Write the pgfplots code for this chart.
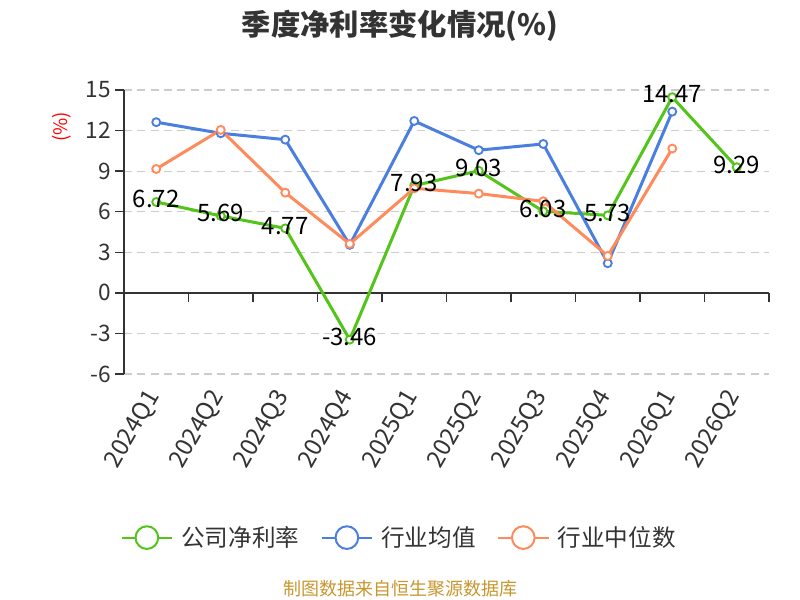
\documentclass[border=0pt]{standalone}
\usepackage{pgfplots}
\pgfplotsset{compat=1.18}
\usepackage{fontspec}
\setmainfont{Noto Sans CJK SC}
\definecolor{cgreen}{HTML}{52C41A}
\definecolor{cblue}{HTML}{4A7FE0}
\definecolor{corange}{HTML}{FF8A5B}
\definecolor{ctext}{HTML}{333333}
\definecolor{cgrid}{HTML}{CCCCCC}
\definecolor{csrc}{HTML}{C8962E}
\begin{document}
\begin{tikzpicture}
\useasboundingbox (0,0) rectangle (600pt,450pt);
\node[font=\bfseries\fontsize{22}{26}\selectfont, text=ctext] at (300pt,430.5pt) {季度净利率变化情况(\%)};
\node[rotate=90, text=red, font=\fontsize{14}{16}\selectfont] at (46.5pt,354.75pt) {(\%)};
\node[font=\fontsize{13.5}{16}\selectfont, text=csrc] at (300pt,8.5pt) {制图数据来自恒生聚源数据库};
\begin{axis}[
  at={(93pt,169.5pt)}, anchor=south west,
  scale only axis, width=483.75pt, height=213pt,
  xmin=-0.5, xmax=9.5, ymin=-6, ymax=15,
  axis y line*=left, axis x line*=middle,
  axis line style={ctext, line width=1pt},
  ytick={-6,-3,...,15},
  ymajorgrids=true,
  major grid style={cgrid, line width=0.9pt, dash pattern=on 6pt off 4pt},
  xtick={-0.5,0.5,...,9.5},
  xticklabels={},
  tick style={ctext, line width=1pt},
  tick align=outside,
  major tick length=6.5pt,
  extra x ticks={0,1,2,3,4,5,6,7,8,9},
  extra x tick labels={2024Q1,2024Q2,2024Q3,2024Q4,2025Q1,2025Q2,2025Q3,2025Q4,2026Q1,2026Q2},
  extra x tick style={major tick length=0pt, grid=none,
    xticklabel style={yshift=-72pt, rotate=60, anchor=east, font=\fontsize{18}{20}\selectfont, text=ctext}},
  yticklabel style={font=\fontsize{17}{20}\selectfont, text=ctext},
  /pgf/number format/assume math mode=true,
  clip=false,
  legend columns=3,
  legend style={draw=none, fill=none, at={(0.427,-0.576)}, anchor=center,
    font=\fontsize{17.7}{20}\selectfont, text=ctext,
    /tikz/every even column/.append style={column sep=14pt},
    /tikz/every odd column/.append style={column sep=4pt},
    nodes={inner sep=2pt}},
  legend image code/.code={
    \draw[line width=1.5pt] (0pt,0pt) -- (38pt,0pt);
    \draw[line width=1.5pt, fill=white] (19pt,0pt) circle (8.5pt);},
]
\addplot[cgreen, line width=2.25pt, mark=*, mark size=3pt, mark options={fill=white, line width=1.4pt}]
  coordinates {(0,6.72) (1,5.69) (2,4.77) (3,-3.46) (4,7.93) (5,9.03) (6,6.03) (7,5.73) (8,14.47) (9,9.29)};
\addlegendentry{公司净利率}
\addplot[cblue, line width=2.25pt, mark=*, mark size=3pt, mark options={fill=white, line width=1.4pt}]
  coordinates {(0,12.62) (1,11.8) (2,11.33) (3,3.55) (4,12.71) (5,10.55) (6,11.01) (7,2.19) (8,13.4)};
\addlegendentry{行业均值}
\addplot[corange, line width=2.25pt, mark=*, mark size=3pt, mark options={fill=white, line width=1.4pt}]
  coordinates {(0,9.16) (1,12.05) (2,7.41) (3,3.62) (4,7.73) (5,7.34) (6,6.77) (7,2.73) (8,10.67)};
\addlegendentry{行业中位数}
\addplot[draw=none, forget plot, point meta=explicit symbolic,
  nodes near coords, nodes near coords align={center},
  every node near coord/.append style={anchor=center, yshift=2pt, font=\fontsize{18}{20}\selectfont, text=black}]
  coordinates {(0,6.72)[6.72] (1,5.69)[5.69] (2,4.77)[4.77] (3,-3.46)[-3.46] (4,7.93)[7.93] (5,9.03)[9.03] (6,6.03)[6.03] (7,5.73)[5.73] (8,14.47)[14.47] (9,9.29)[9.29]};
\end{axis}
\end{tikzpicture}
\end{document}
